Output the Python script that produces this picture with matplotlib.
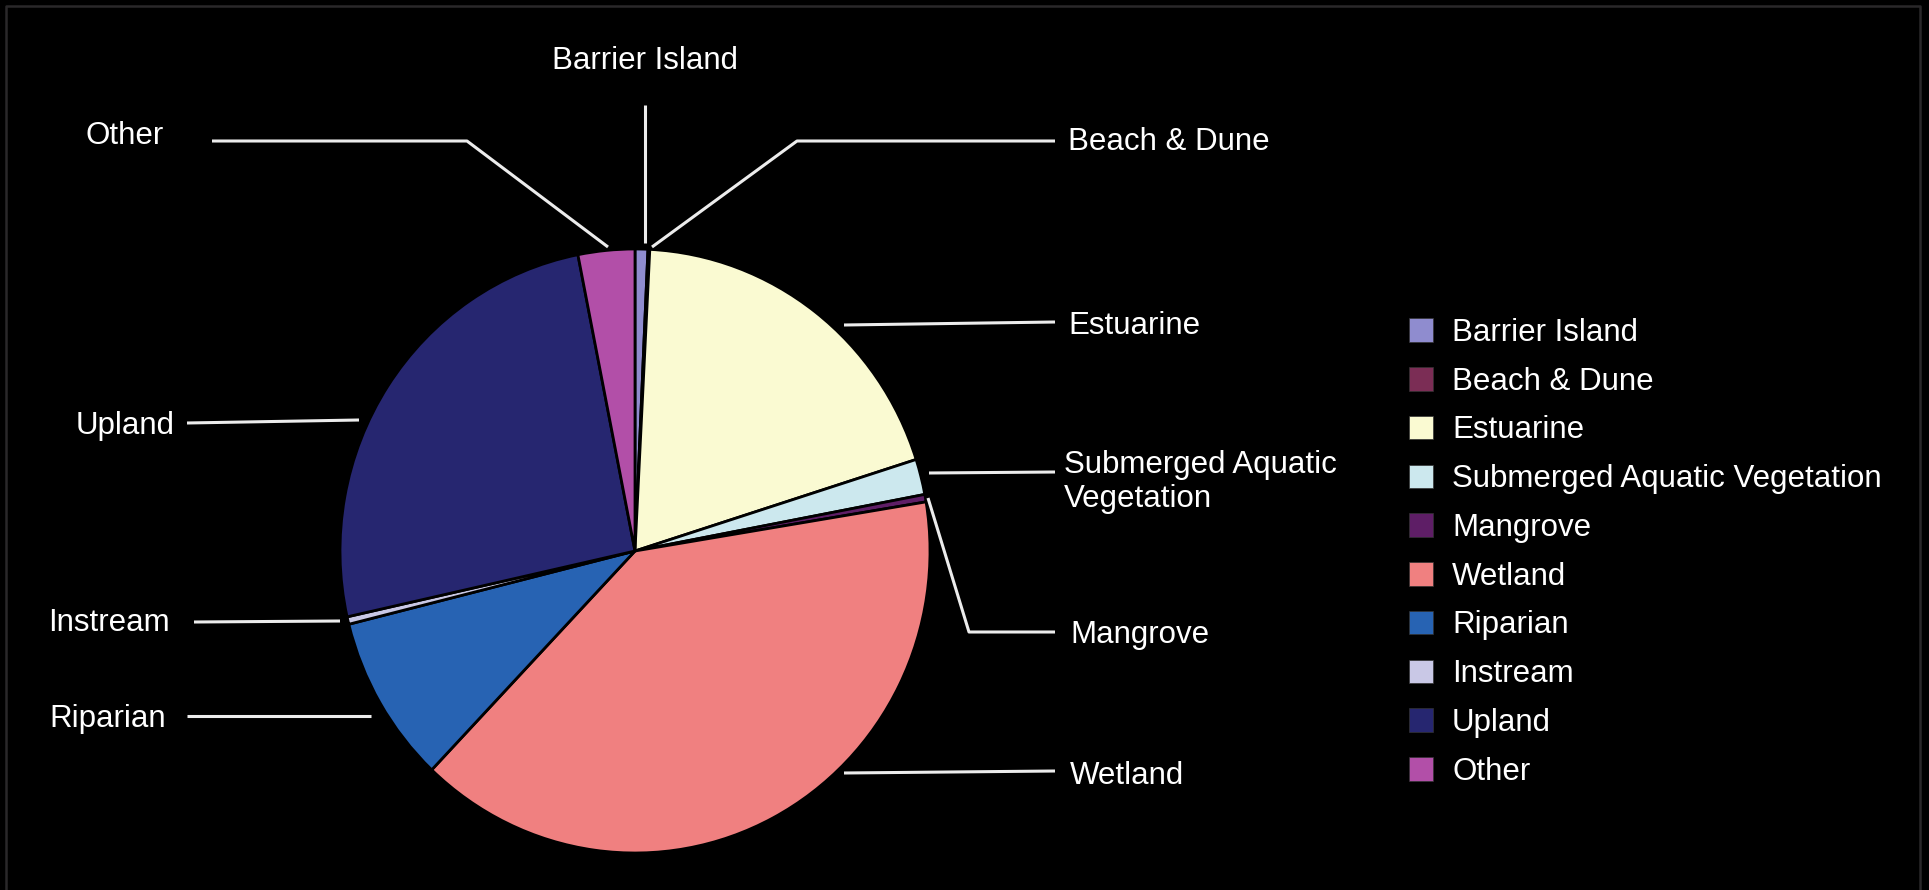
"""
pie chart of habitat types, black background, labels with leader lines
"""
import matplotlib
matplotlib.use("Agg")
import matplotlib.pyplot as plt
from matplotlib.patches import Patch

plt.rcParams['font.family'] = ['Liberation Sans', 'DejaVu Sans']

# data (percent of total)
habitats = ['Barrier Island', 'Beach & Dune', 'Estuarine',
            'Submerged Aquatic Vegetation', 'Mangrove', 'Wetland',
            'Riparian', 'Instream', 'Upland', 'Other']
shares = [0.7, 0.1, 19.3, 1.9, 0.4, 39.7, 9.0, 0.4, 25.4, 3.1]
colors = ['#8f8ccf', '#7b2d55', '#fafad2', '#cce8ee', '#5e1e66',
          '#f08080', '#2763b3', '#c9c8e6', '#262670', '#b24fa8']

# label text, where it sits (pixels) and its leader line
pie_labels = {
    'Barrier Island': ('Barrier Island', (645, 61), 'center',
                       [(645, 105), (645, 243)]),
    'Beach & Dune': ('Beach & Dune', (1068, 142), 'left',
                     [(1055, 141), (797, 141), (652, 247)]),
    'Estuarine': ('Estuarine', (1068, 326), 'left',
                  [(1055, 322), (844, 325)]),
    'Submerged Aquatic Vegetation': ('Submerged Aquatic\nVegetation', (1064, 482), 'left',
                                     [(1055, 472), (929, 473)]),
    'Mangrove': ('Mangrove', (1070, 635), 'left',
                 [(1055, 632), (969, 632), (928, 498)]),
    'Wetland': ('Wetland', (1070, 776), 'left',
                [(1055, 771), (844, 773)]),
    'Riparian': ('Riparian', (49, 719), 'left',
                 [(187, 716), (371, 716)]),
    'Instream': ('Instream', (48, 623), 'left',
                 [(194, 622), (340, 621)]),
    'Upland': ('Upland', (76, 426), 'left',
               [(187, 423), (359, 420)]),
    'Other': ('Other', (125, 136), 'center',
              [(212, 141), (467, 141), (608, 247)]),
}

W, H = 1929, 890
fig = plt.figure(figsize=(W / 100, H / 100), dpi=100, facecolor='black')

# pie axes: centre (635, 551), radius ~295 x 302 px
cx, cy, rx, ry = 635, 551, 295, 302
ax = fig.add_axes([(cx - rx) / W, (H - cy - ry) / H, 2 * rx / W, 2 * ry / H])
wedges, _ = ax.pie(shares, colors=colors, startangle=90, counterclock=False,
                   radius=1, wedgeprops=dict(edgecolor='black', linewidth=2))
ax.set_aspect('auto')
ax.set_xlim(-1, 1)
ax.set_ylim(-1, 1)
ax.axis('off')

# overlay axes in pixel coordinates for labels, leader lines and border
ov = fig.add_axes([0, 0, 1, 1])
ov.set_xlim(0, W)
ov.set_ylim(H, 0)
ov.axis('off')
ov.patch.set_alpha(0)

for name in habitats:
    text, (tx, ty), ha, path = pie_labels[name]
    ov.text(tx, ty, text, color='white', fontsize=22.5, ha=ha, va='center',
            linespacing=1.2)
    ov.plot([p[0] for p in path], [p[1] for p in path], color='#ececec', lw=2.2,
            solid_capstyle='butt')

# frame
ov.plot([6, 6, 1920, 1920], [H + 5, 6, 6, H + 5], color='#2a282a', lw=1.8)

handles = [Patch(facecolor=c, edgecolor='#333333', linewidth=0.5) for c in colors]
fig.legend(handles, habitats, loc='upper left',
           bbox_to_anchor=(1409 / W, 1 - 318 / H), frameon=False,
           fontsize=22.5, labelcolor='white', borderpad=0, borderaxespad=0,
           handlelength=0.78, handleheight=0.78, handletextpad=0.6,
           labelspacing=0.6)

fig.savefig('out.png', dpi=100, facecolor='black')
